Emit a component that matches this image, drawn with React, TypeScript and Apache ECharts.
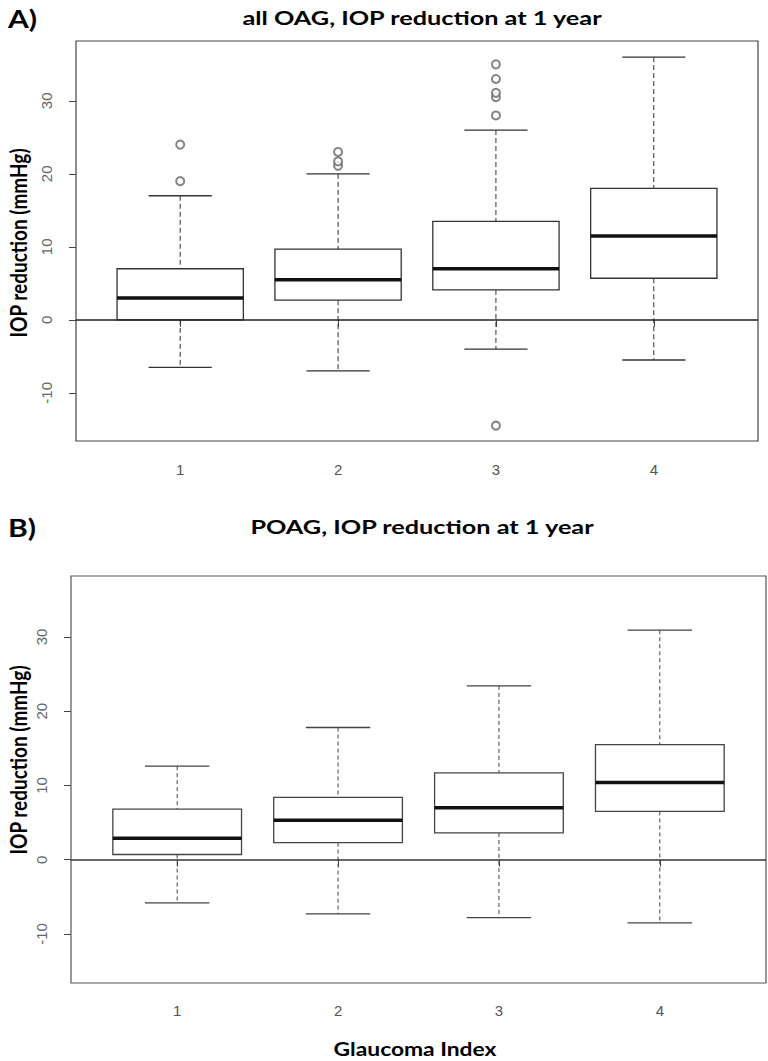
import React, { useEffect, useRef } from "react";
import * as echarts from "echarts";

const groups = [1, 2, 3, 4];
const tickLabelsX = [1, 2, 3, 4];
const tickLabelsY = [-10, 0, 10, 20, 30];

// Panel A: all OAG
const aLow = [-6.5, -7, -4, -5.5];
const aQ1 = [0, 2.7, 4.1, 5.7];
const aMed = [3, 5.5, 7, 11.5];
const aQ3 = [7, 9.7, 13.5, 18];
const aHigh = [17, 20, 26, 36];
const aOutGroup = [1, 1, 2, 2, 2, 3, 3, 3, 3, 3, 3];
const aOutValue = [19, 24, 21.1, 21.7, 23, 28, 30.5, 31.1, 33, 35, -14.5];

// Panel B: POAG
const bLow = [-5.8, -7.3, -7.8, -8.5];
const bQ1 = [0.7, 2.3, 3.6, 6.5];
const bMed = [2.9, 5.3, 7, 10.4];
const bQ3 = [6.8, 8.4, 11.7, 15.5];
const bHigh = [12.6, 17.8, 23.4, 30.9];

const yMin = -16.6;
const yMax = 38.2;
const xMin = 0.34;
const xMax = 4.66;

function makeRender(lineColor: string, dash: number[]) {
  return (params: any, api: any) => {
    const x = api.value(0);
    const low = api.value(1);
    const q1 = api.value(2);
    const med = api.value(3);
    const q3 = api.value(4);
    const high = api.value(5);
    const c = api.coord([x, med]);
    const lt = api.coord([x - 0.4, q3]);
    const rb = api.coord([x + 0.4, q1]);
    const pHigh = api.coord([x, high]);
    const pLow = api.coord([x, low]);
    const capL = api.coord([x - 0.2, high]);
    const capR = api.coord([x + 0.2, high]);
    const cx = c[0];
    return {
      type: "group",
      children: [
        {
          type: "line",
          shape: { x1: cx, y1: pHigh[1], x2: cx, y2: lt[1] },
          style: { stroke: lineColor, lineWidth: 1, lineDash: dash },
        },
        {
          type: "line",
          shape: { x1: cx, y1: rb[1], x2: cx, y2: pLow[1] },
          style: { stroke: lineColor, lineWidth: 1, lineDash: dash },
        },
        {
          type: "line",
          shape: { x1: capL[0], y1: pHigh[1], x2: capR[0], y2: pHigh[1] },
          style: { stroke: lineColor, lineWidth: 1.3 },
        },
        {
          type: "line",
          shape: { x1: capL[0], y1: pLow[1], x2: capR[0], y2: pLow[1] },
          style: { stroke: lineColor, lineWidth: 1.3 },
        },
        {
          type: "rect",
          shape: { x: lt[0], y: lt[1], width: rb[0] - lt[0], height: rb[1] - lt[1] },
          style: { fill: "#ffffff", stroke: lineColor, lineWidth: 1.3 },
        },
        {
          type: "line",
          shape: { x1: lt[0], y1: c[1], x2: rb[0], y2: c[1] },
          style: { stroke: "#111111", lineWidth: 3.5 },
        },
      ],
    };
  };
}

const tickFont = {
  color: "#555555",
  fontFamily: "Liberation Sans",
  fontSize: 15,
};

function makeAxes(gridIndex: number, xMargin: number, yMargin: number) {
  const xAxis = {
    type: "value",
    gridIndex,
    min: xMin,
    max: xMax,
    axisLine: { show: false },
    splitLine: { show: false },
    axisTick: {
      show: true,
      length: 7,
      customValues: tickLabelsX,
      lineStyle: { color: "#444444", width: 1 },
    },
    axisLabel: {
      ...tickFont,
      margin: xMargin,
      customValues: tickLabelsX,
      formatter: (v: number) => String(Math.round(v)),
    },
  };
  const yAxis = {
    type: "value",
    gridIndex,
    min: yMin,
    max: yMax,
    axisLine: { show: false },
    splitLine: { show: false },
    axisTick: {
      show: true,
      length: 7,
      customValues: tickLabelsY,
      lineStyle: { color: "#444444", width: 1 },
    },
    axisLabel: {
      ...tickFont,
      color: "#666666",
      rotate: 90,
      margin: yMargin,
      customValues: tickLabelsY,
      formatter: (v: number) => String(Math.round(v)),
    },
  };
  return { xAxis, yAxis };
}

export default function App() {
  const ref = useRef<HTMLDivElement>(null);
  useEffect(() => {
    document.body.style.margin = "0";
    const chart = echarts.init(ref.current!, null, { renderer: "svg" });
    const axA = makeAxes(0, 21, 22);
    const axB = makeAxes(1, 20, 22);
    const titleFont = "bold 19px Lato";
    const option: any = {
      animation: false,
      backgroundColor: "#ffffff",
      grid: [
        { left: 76, top: 41, width: 682, height: 400, show: true, borderColor: "#444444", borderWidth: 1.2, backgroundColor: "transparent" },
        { left: 71, top: 576, width: 695, height: 407, show: true, borderColor: "#555555", borderWidth: 1.2, backgroundColor: "transparent" },
      ],
      xAxis: [axA.xAxis, axB.xAxis],
      yAxis: [axA.yAxis, axB.yAxis],
      graphic: [
        { type: "text", x: 8, y: 18, scaleX: 1.2, style: { text: "A)", font: "bold 25px Lato", fill: "#000", textVerticalAlign: "middle" } },
        { type: "text", x: 422, y: 18, scaleX: 1.33, style: { text: "all OAG, IOP reduction at 1 year", font: titleFont, fill: "#000", textAlign: "center", textVerticalAlign: "middle" } },
        { type: "text", x: 8, y: 527, scaleX: 1.2, style: { text: "B)", font: "bold 25px Lato", fill: "#000", textVerticalAlign: "middle" } },
        { type: "text", x: 422, y: 527, scaleX: 1.33, style: { text: "POAG, IOP reduction at 1 year", font: titleFont, fill: "#000", textAlign: "center", textVerticalAlign: "middle" } },
        { type: "text", x: 18, y: 243, rotation: Math.PI / 2, scaleY: 1.25, style: { text: "IOP reduction (mmHg)", font: titleFont, fill: "#000", textAlign: "center", textVerticalAlign: "middle" } },
        { type: "text", x: 18, y: 760, rotation: Math.PI / 2, scaleY: 1.25, style: { text: "IOP reduction (mmHg)", font: titleFont, fill: "#000", textAlign: "center", textVerticalAlign: "middle" } },
        { type: "text", x: 415, y: 1048, scaleX: 1.2, style: { text: "Glaucoma Index", font: titleFont, fill: "#000", textAlign: "center", textVerticalAlign: "middle" } },
      ],
      series: [
        {
          type: "custom",
          xAxisIndex: 0,
          yAxisIndex: 0,
          renderItem: makeRender("#333333", [5, 3]),
          encode: { x: 0, y: [1, 2, 3, 4, 5] },
          data: groups.map((g, i) => [g, aLow[i], aQ1[i], aMed[i], aQ3[i], aHigh[i]]),
          z: 2,
        },
        {
          type: "scatter",
          xAxisIndex: 0,
          yAxisIndex: 0,
          symbol: "emptyCircle",
          symbolSize: 8,
          itemStyle: { color: "#666666", borderColor: "#666666", borderWidth: 0.9 },
          data: aOutGroup.map((g, i) => [g, aOutValue[i]]),
          markLine: {
            silent: true,
            symbol: "none",
            label: { show: false },
            lineStyle: { color: "#222222", width: 1.5, type: "solid" },
            data: [{ yAxis: 0 }],
          },
          z: 3,
        },
        {
          type: "custom",
          xAxisIndex: 1,
          yAxisIndex: 1,
          renderItem: makeRender("#444444", [4, 3]),
          encode: { x: 0, y: [1, 2, 3, 4, 5] },
          data: groups.map((g, i) => [g, bLow[i], bQ1[i], bMed[i], bQ3[i], bHigh[i]]),
          markLine: {
            silent: true,
            symbol: "none",
            label: { show: false },
            lineStyle: { color: "#333333", width: 1.5, type: "solid" },
            data: [{ yAxis: 0 }],
            z: 5,
          },
          z: 2,
        },
      ],
    };
    chart.setOption(option);
    return () => chart.dispose();
  }, []);
  return <div ref={ref} style={{ width: 768, height: 1061 }} />;
}
